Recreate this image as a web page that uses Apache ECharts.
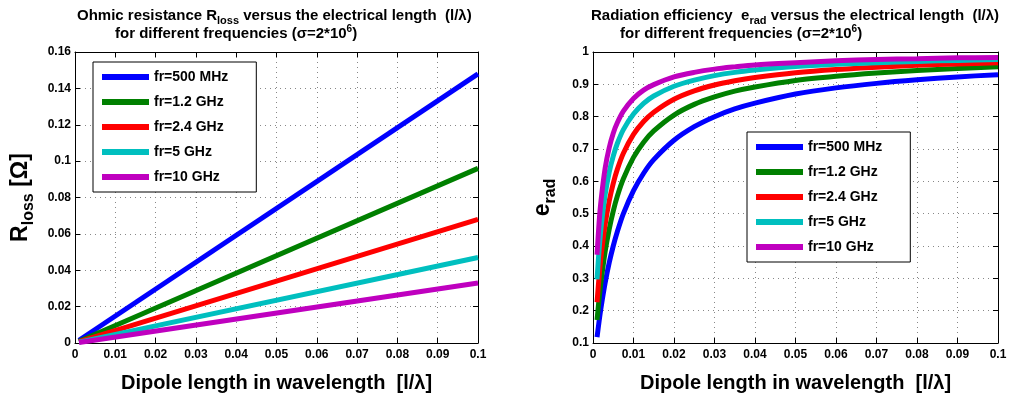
<!DOCTYPE html>
<html><head><meta charset="utf-8">
<script src="https://cdn.jsdelivr.net/npm/echarts@6/dist/echarts.min.js"></script>
<style>html,body{margin:0;padding:0;background:#fff}#c{width:1011px;height:398px}</style>
</head><body><div id="c"></div>
<script>
const seriesNames = ['fr=500 MHz','fr=1.2 GHz','fr=2.4 GHz','fr=5 GHz','fr=10 GHz'];
const colors = ['#0000ff','#008000','#ff0000','#00bfbf','#bf00bf'];
const xTicks = [0,0.01,0.02,0.03,0.04,0.05,0.06,0.07,0.08,0.09,0.1];
// Left: ohmic resistance (linear), endpoints
const lossX = [0.001, 0.1];
const loss500 = [0.0015, 0.148];
const loss1200 = [0.001, 0.096];
const loss2400 = [0.0007, 0.068];
const loss5000 = [0.0005, 0.047];
const loss10000 = [0.0003, 0.033];
// Right: radiation efficiency
const effX = [0.001,0.0015,0.002,0.003,0.004,0.005,0.006,0.0075,0.01,0.0125,0.015,0.02,0.025,0.03,0.035,0.04,0.05,0.06,0.07,0.08,0.09,0.1];
const eff500  = [0.118,0.167,0.211,0.286,0.348,0.400,0.444,0.500,0.571,0.625,0.667,0.727,0.769,0.800,0.824,0.842,0.870,0.889,0.903,0.914,0.923,0.930];
const eff1200 = [0.171,0.237,0.292,0.383,0.452,0.508,0.554,0.608,0.674,0.721,0.756,0.805,0.838,0.861,0.879,0.892,0.912,0.925,0.935,0.943,0.949,0.954];
const eff2400 = [0.226,0.305,0.369,0.467,0.539,0.594,0.637,0.687,0.745,0.785,0.814,0.854,0.880,0.898,0.911,0.921,0.936,0.946,0.953,0.959,0.963,0.967];
const eff5000 = [0.297,0.388,0.458,0.559,0.628,0.678,0.717,0.760,0.808,0.841,0.864,0.894,0.913,0.927,0.937,0.944,0.955,0.962,0.967,0.971,0.974,0.977];
const eff10000= [0.373,0.472,0.543,0.641,0.704,0.749,0.781,0.817,0.856,0.882,0.899,0.923,0.937,0.947,0.954,0.960,0.967,0.973,0.977,0.979,0.982,0.983];

const lossData = [loss500,loss1200,loss2400,loss5000,loss10000];
const effData = [eff500,eff1200,eff2400,eff5000,eff10000];
const F = 'Liberation Sans, Arial, sans-serif';

function pairs(xs, ys){ return xs.map((x,i)=>[x,ys[i]]); }
const fmt = v => String(+(+v).toFixed(3));

function xAxes(gi){
  const base = {type:'value', gridIndex:gi, min:0, max:0.1, interval:0.01,
    axisLine:{show:true,onZero:false,lineStyle:{color:'#000',width:1}},
    axisTick:{show:true,inside:true,length:5,lineStyle:{color:'#000'}}};
  return [
    Object.assign({}, base, {position:'bottom',
      axisLabel:{color:'#000',fontFamily:F,fontWeight:'bold',fontSize:12,margin:6,formatter:fmt},
      splitLine:{show:true,lineStyle:{color:'#888',type:[1,4],width:1}},
      name:'Dipole length in wavelength  [l/\u03bb]', nameLocation:'middle', nameGap:30,
      nameTextStyle:{color:'#000',fontFamily:F,fontWeight:'bold',fontSize:20}}),
    Object.assign({}, base, {position:'top', axisLabel:{show:false}, splitLine:{show:false}})
  ];
}
function yAxes(gi, min, max, interval, name, gap){
  const base = {type:'value', gridIndex:gi, min:min, max:max, interval:interval,
    axisLine:{show:true,onZero:false,lineStyle:{color:'#000',width:1}},
    axisTick:{show:true,inside:true,length:5,lineStyle:{color:'#000'}}};
  return [
    Object.assign({}, base, {position:'left',
      axisLabel:{color:'#000',fontFamily:F,fontWeight:'bold',fontSize:12,margin:4,formatter:fmt},
      splitLine:{show:true,lineStyle:{color:'#888',type:[1,4],width:1}},
      name:name, nameLocation:'middle', nameGap:gap, nameRotate:90,
      nameTextStyle:{color:'#000',fontFamily:F,fontWeight:'bold',fontSize:22,
        rich:{m:{fontFamily:F,fontWeight:'bold',fontSize:23,lineHeight:32,verticalAlign:'middle'},
              s:{fontFamily:F,fontWeight:'bold',fontSize:16,lineHeight:14,verticalAlign:'bottom'}}}}),
    Object.assign({}, base, {position:'right', axisLabel:{show:false}, splitLine:{show:false}})
  ];
}

const richT = {
  m:{fontFamily:F,fontWeight:'bold',fontSize:15,lineHeight:20,verticalAlign:'middle',color:'#000'},
  s:{fontFamily:F,fontWeight:'bold',fontSize:11,lineHeight:8,verticalAlign:'bottom',color:'#000'},
  p:{fontFamily:F,fontWeight:'bold',fontSize:10,lineHeight:8,verticalAlign:'top',color:'#000'}
};

function legend(left, top){
  return {data:seriesNames.map((n)=>({name:n})), orient:'vertical', left:left, top:top,
    backgroundColor:'#fff', borderColor:'#000', borderWidth:1, padding:[7,28,7,9], itemGap:9,
    itemWidth:47, itemHeight:6, icon:'rect',
    textStyle:{color:'#000',fontFamily:F,fontWeight:'bold',fontSize:14,lineHeight:16}};
}

const series = [];
lossData.forEach((d,i)=>series.push({name:seriesNames[i], type:'line', xAxisIndex:0, yAxisIndex:0,
  data:pairs(lossX,d), showSymbol:false, lineStyle:{color:colors[i],width:5}, itemStyle:{color:colors[i]}}));
effData.forEach((d,i)=>series.push({name:seriesNames[i], type:'line', xAxisIndex:2, yAxisIndex:2,
  data:pairs(effX,d), showSymbol:false, smooth:0.3, lineStyle:{color:colors[i],width:5}, itemStyle:{color:colors[i]}}));

const chart = echarts.init(document.getElementById('c'), null, {renderer:'canvas'});
chart.setOption({
  animation:false,
  backgroundColor:'#fff',
  title:[
    {text:'{m|Ohmic resistance R}{s|loss}{m| versus the electrical length  (l/\u03bb)}', left:77, top:6, padding:0, textStyle:{rich:richT}},
    {text:'{m|for different frequencies (\u03c3=2*10}{p|6}{m|)}', left:115, top:24, padding:0, textStyle:{rich:richT}},
    {text:'{m|Radiation efficiency  e}{s|rad}{m| versus the electrical length  (l/\u03bb)}', left:591, top:6, padding:0, textStyle:{rich:richT}},
    {text:'{m|for different frequencies (\u03c3=2*10}{p|6}{m|)}', left:620, top:24, padding:0, textStyle:{rich:richT}}
  ],
  legend:[ legend(93, 62), legend(747, 132) ],
  grid:[
    {left:75, right:533, top:52, bottom:47, show:false},
    {left:593, right:13, top:52, bottom:47, show:false}
  ],
  xAxis:[...xAxes(0), ...xAxes(1)],
  yAxis:[...yAxes(0, 0, 0.16, 0.02, '{m|R}{s|loss}{m| [\u03a9]}', 38), ...yAxes(1, 0.1, 1, 0.1, '{m|e}{s|rad}', 34)],
  series:series
});
</script></body></html>
